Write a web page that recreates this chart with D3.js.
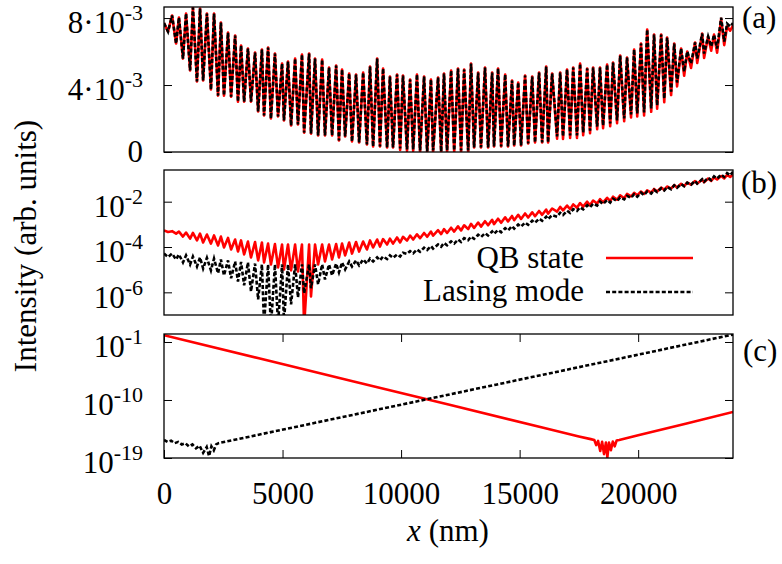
<!DOCTYPE html>
<html><head><meta charset="utf-8">
<script src="https://cdn.jsdelivr.net/npm/d3@7"></script>
<style>
html,body{margin:0;padding:0;background:#fff;}
svg{display:block;}
svg text{font-family:"Liberation Serif","Tinos","Times New Roman","Nimbus Roman","DejaVu Serif",serif !important;}
</style></head><body>
<svg id="chart" width="782" height="564"></svg>
<script>
// ---------- data ----------
// x positions (nm) of the sampled extrema used in panels (a) and (b)
const xs = [0,170,340,510,630,800,930,1100,1220,1390,
1520,1650,1810,1980,2110,2280,2400,2530,2700,2830,
3000,3120,3250,3380,3540,3670,3840,3970,4130,4220,
4390,4510,4680,4810,4980,5060,5230,5360,5530,5650,
5820,5910,6120,6200,6370,6500,6670,6790,6960,7090,
7260,7380,7510,7640,7810,7930,8100,8230,8400,8560,
8690,8820,8990,9110,9240,9410,9530,9660,9830,9960,
10080,10250,10380,10510,10670,10800,10970,11100,11260,11350,
11560,11690,11810,11940,12110,12240,12400,12530,12660,12830,
12950,13080,13250,13370,13540,13670,13840,13920,14090,14220,
14390,14510,14680,14770,14940,15060,15230,15360,15530,15650,
15820,15950,16120,16200,16370,16580,16710,16830,17000,17130,
17260,17420,17550,17680,17850,17970,18100,18270,18390,18520,
18690,18820,18940,19110,19240,19410,19530,19700,19830,19960,
20120,20250,20380,20550,20670,20800,20970,21100,21220,21390,
21520,21640,21810,21940,22070,22230,22400,22490,22700,22780,
22950,23080,23200,23330,23500,23630,23750,23880,24000];

// panel (a): intensity in units of 1e-3
const aLase = [7.70,7.19,8.15,6.48,8.03,5.58,8.27,4.87,8.63,4.21,
8.57,4.27,8.27,3.73,8.27,3.37,7.73,3.37,7.13,3.31,
6.96,3.01,6.36,3.01,6.18,3.01,5.94,2.42,6.12,2.18,
6.24,2.00,5.88,2.12,5.28,1.88,5.40,1.58,5.58,1.64,
5.82,1.16,5.88,1.10,5.58,0.99,5.52,0.99,5.04,0.99,
5.16,0.69,4.93,0.93,4.69,0.63,4.63,0.57,4.75,0.45,
5.10,0.33,5.58,0.33,4.99,0.27,4.51,0.27,4.63,0.21,
4.57,0.15,4.33,0.15,4.63,0.09,4.51,0.03,4.33,0.09,
4.45,0.03,4.69,0.09,4.87,0.09,4.99,0.09,4.93,0.09,
5.28,0.27,4.75,0.27,5.04,0.27,4.75,0.33,4.99,0.33,
4.63,0.33,4.27,0.39,4.15,0.39,4.57,0.51,4.51,0.57,
4.75,0.57,5.10,0.57,4.69,0.93,4.75,0.93,4.93,0.99,
5.04,0.99,5.28,1.16,4.99,1.28,5.04,1.52,5.04,1.58,
5.22,1.70,5.34,1.88,5.76,2.00,5.64,2.24,6.12,2.30,
6.48,2.36,7.31,2.60,7.01,2.78,7.01,3.19,6.84,3.61,
6.48,4.15,6.18,4.81,6.00,5.28,6.54,5.58,7.07,5.88,
6.90,6.30,7.01,6.18,8.03,6.60,7.67,7.49,7.70];
const aQB = [7.70,7.19,8.15,6.48,8.03,5.58,8.27,4.87,8.63,4.21,
8.57,4.27,8.27,3.73,8.27,3.37,7.73,3.37,7.13,3.31,
6.96,3.01,6.36,3.01,6.18,3.01,5.94,2.42,6.12,2.18,
6.24,2.00,5.88,2.12,5.28,1.88,5.40,1.58,5.58,1.64,
5.82,1.16,5.88,1.10,5.58,0.99,5.52,0.99,5.04,0.99,
5.16,0.69,4.93,0.93,4.69,0.63,4.63,0.57,4.75,0.45,
5.10,0.33,5.58,0.33,4.99,0.27,4.51,0.27,4.63,0.12,
4.57,0.06,4.33,0.06,4.63,0.00,4.51,0.00,4.33,0.00,
4.45,0.00,4.69,0.00,4.87,0.00,4.99,0.00,4.93,0.00,
5.28,0.27,4.75,0.27,5.04,0.27,4.75,0.33,4.99,0.33,
4.63,0.33,4.27,0.39,4.15,0.39,4.57,0.51,4.51,0.57,
4.75,0.57,5.10,0.57,4.69,0.80,4.75,0.78,4.93,0.84,
5.04,0.84,5.28,1.00,4.99,1.12,5.04,1.36,5.04,1.42,
5.22,1.54,5.34,1.72,5.76,1.84,5.64,2.06,6.12,2.12,
6.48,2.18,7.31,2.40,7.01,2.58,7.01,2.98,6.84,3.40,
6.48,3.92,6.18,4.55,6.00,5.02,6.54,5.32,7.07,5.62,
6.90,6.05,7.01,5.93,7.95,6.38,7.50,7.25,7.55];

// panel (b): log10 of intensity
const bQB = [-3.27,-3.34,-3.30,-3.41,-3.32,-3.54,-3.36,-3.63,-3.38,-3.71,
-3.41,-3.80,-3.45,-3.85,-3.49,-3.93,-3.54,-4.02,-3.60,-4.11,
-3.67,-4.20,-3.71,-4.33,-3.76,-4.46,-3.78,-4.59,-3.80,-4.68,
-3.85,-4.77,-3.87,-4.90,-3.89,-4.99,-3.89,-5.03,-3.89,-5.08,
-3.89,-7.50,-3.89,-6.18,-3.89,-4.77,-3.89,-4.64,-3.89,-4.55,
-3.87,-4.46,-3.85,-4.37,-3.80,-4.29,-3.78,-4.20,-3.76,-4.11,
-3.71,-4.02,-3.67,-3.98,-3.65,-3.89,-3.63,-3.85,-3.58,-3.80,
-3.55,-3.72,-3.50,-3.67,-3.44,-3.61,-3.38,-3.55,-3.32,-3.50,
-3.26,-3.43,-3.21,-3.38,-3.15,-3.32,-3.09,-3.27,-3.04,-3.21,
-2.98,-3.16,-2.92,-3.10,-2.86,-3.04,-2.80,-2.99,-2.75,-2.93,
-2.69,-2.87,-2.63,-2.82,-2.58,-2.76,-2.52,-2.70,-2.47,-2.64,
-2.41,-2.58,-2.35,-2.53,-2.30,-2.44,-2.23,-2.38,-2.17,-2.33,
-2.12,-2.27,-2.06,-2.22,-2.00,-2.16,-1.95,-2.08,-1.89,-2.03,
-1.83,-1.97,-1.78,-1.91,-1.72,-1.85,-1.66,-1.77,-1.61,-1.72,
-1.55,-1.66,-1.50,-1.60,-1.44,-1.55,-1.38,-1.48,-1.33,-1.42,
-1.27,-1.37,-1.21,-1.31,-1.16,-1.25,-1.09,-1.20,-1.03,-1.14,
-0.98,-1.08,-0.93,-1.02,-0.87,-0.97,-0.82,-0.91,-0.80];
const bLase = [-4.29,-4.44,-4.29,-4.55,-4.33,-4.68,-4.37,-4.77,-4.42,-4.86,
-4.46,-4.95,-4.48,-5.03,-4.51,-5.16,-4.55,-5.25,-4.59,-5.38,
-4.64,-5.52,-4.66,-5.69,-4.68,-5.96,-4.73,-6.31,-4.77,-7.40,
-4.77,-7.50,-4.77,-7.40,-4.77,-7.30,-4.77,-6.53,-4.77,-6.22,
-4.77,-6.04,-4.77,-5.82,-4.77,-5.65,-4.77,-5.43,-4.77,-5.25,
-4.73,-5.12,-4.68,-4.99,-4.64,-4.86,-4.59,-4.81,-4.55,-4.73,
-4.51,-4.64,-4.46,-4.59,-4.42,-4.53,-4.37,-4.48,-4.33,-4.42,
-4.25,-4.30,-4.18,-4.28,-4.11,-4.21,-4.03,-4.13,-3.96,-4.07,
-3.89,-3.99,-3.82,-3.92,-3.75,-3.85,-3.67,-3.78,-3.61,-3.70,
-3.54,-3.64,-3.46,-3.56,-3.39,-3.49,-3.31,-3.42,-3.25,-3.35,
-3.17,-3.27,-3.08,-3.19,-3.01,-3.10,-2.92,-3.02,-2.84,-2.93,
-2.75,-2.84,-2.66,-2.77,-2.59,-2.66,-2.49,-2.59,-2.40,-2.50,
-2.33,-2.41,-2.25,-2.34,-2.16,-2.25,-2.09,-2.17,-2.00,-2.10,
-1.93,-2.04,-1.87,-1.97,-1.81,-1.90,-1.74,-1.83,-1.67,-1.78,
-1.60,-1.71,-1.55,-1.64,-1.48,-1.58,-1.41,-1.51,-1.35,-1.45,
-1.28,-1.39,-1.22,-1.32,-1.16,-1.25,-1.08,-1.20,-1.01,-1.12,
-0.95,-1.05,-0.88,-0.98,-0.81,-0.91,-0.74,-0.84,-0.68];

// panel (c): log10 of intensity
const cQBx = [0,4000,8000,12000,16000,17500,18000,18150,18230,18310,18400,18480,18560,18640,18700,18770,18850,18930,19010,19090,19200,20000,22000,24000];
const cQB  = [0.05,-3.54,-7.13,-10.71,-14.30,-15.65,-16.07,-16.21,-17.0,-16.35,-17.9,-16.5,-18.4,-16.6,-18.9,-16.6,-17.8,-16.45,-17.2,-16.3,-16.21,-15.48,-13.67,-11.86];
const cLaseX = [0,150,300,450,600,750,900,1050,1200,1350,1500,1650,1800,1900,2000,2100,2200,2300,8000,14000,20000,24000];
const cLase  = [-16.2,-16.5,-16.3,-16.7,-16.5,-16.9,-16.7,-17.2,-16.9,-17.5,-17.1,-18.2,-17.3,-18.7,-17.2,-17.8,-16.9,-16.7,-12.28,-7.62,-2.97,0.15];

const xTicks = [0,5000,10000,15000,20000];
const aTicks = [0,4e-3,8e-3];
const aTickLabels = [["0",""],["4·10","-3"],["8·10","-3"]];
const bTicks = [1e-2,1e-4,1e-6];
const bTickLabels = [["10","-2"],["10","-4"],["10","-6"]];
const cTicks = [1e-1,1e-10,1e-19];
const cTickLabels = [["10","-1"],["10","-10"],["10","-19"]];
const seriesNames = ["QB state","Lasing mode"];

// ---------- drawing ----------
const svg = d3.select("#chart");
const L = 164, R = 733;
const FONT = 31, SUP = 22;
const RED = "#ff0000";
const x = d3.scaleLinear().domain([0,24000]).range([L,R]);

const panels = [
  {id:"a", top:7, bottom:152, y:d3.scaleLinear().domain([0,8.66e-3]).range([152,7]),
   ticks:aTicks, labels:aTickLabels, tag:"(a)", tagX:742, tagY:28,
   qb: xs.map((v,i)=>[v, aQB[i]*1e-3]), la: xs.map((v,i)=>[v, aLase[i]*1e-3])},
  {id:"b", top:170, bottom:315, y:d3.scaleLog().domain([1e-7,0.25]).range([315,170]),
   ticks:bTicks, labels:bTickLabels, tag:"(b)", tagX:741, tagY:193,
   qb: xs.map((v,i)=>[v, Math.pow(10,bQB[i])]), la: xs.map((v,i)=>[v, Math.pow(10,bLase[i])])},
  {id:"c", top:334, bottom:458, y:d3.scaleLog().domain([1e-19,Math.pow(10,0.24)]).range([458,334]),
   ticks:cTicks, labels:cTickLabels, tag:"(c)", tagX:743, tagY:361, xaxis:true,
   qb: cQBx.map((v,i)=>[v, Math.pow(10,cQB[i])]), la: cLaseX.map((v,i)=>[v, Math.pow(10,cLase[i])])}
];

const defs = svg.append("defs");

panels.forEach(p => {
  defs.append("clipPath").attr("id","clip-"+p.id)
    .append("rect").attr("x",L).attr("y",p.top).attr("width",R-L).attr("height",p.bottom-p.top);

  const line = d3.line().x(d=>x(d[0])).y(d=>p.y(Math.max(d[1],1e-30)));
  const g = svg.append("g").attr("clip-path","url(#clip-"+p.id+")");
  g.append("path").attr("d",line(p.qb)).attr("fill","none")
    .attr("stroke",RED).attr("stroke-width",2.6).attr("stroke-linejoin","round");
  g.append("path").attr("d",line(p.la)).attr("fill","none")
    .attr("stroke","#000").attr("stroke-width",2.6).attr("stroke-dasharray","4,2.2");

  // left axis with labels
  const gl = svg.append("g").attr("transform",`translate(${L},0)`)
    .call(d3.axisLeft(p.y).tickValues(p.ticks).tickSize(-8).tickPadding(21).tickFormat(()=>""));
  gl.attr("font-family",null);
  gl.select(".domain").remove();
  gl.selectAll(".tick line").attr("stroke","#000").attr("stroke-width",1);
  gl.selectAll(".tick text").each(function(d,i){
    const lab = p.labels[i];
    const t = d3.select(this).text(null)
      .attr("font-size",FONT).attr("fill","#000")
      .attr("dy", lab[1] ? "0.48em" : "0.32em");
    t.append("tspan").text(lab[0]);
    if (lab[1]) t.append("tspan").attr("font-size",SUP).attr("dy",-13).text(lab[1]);
  });
  // right mirror ticks
  const gr = svg.append("g").attr("transform",`translate(${R},0)`)
    .call(d3.axisRight(p.y).tickValues(p.ticks).tickSize(-8).tickFormat(()=>""));
  gr.select(".domain").remove();
  gr.selectAll(".tick line").attr("stroke","#000").attr("stroke-width",1);

  if (p.xaxis) {
    const gb = svg.append("g").attr("transform",`translate(0,${p.bottom})`)
      .call(d3.axisBottom(x).tickValues(xTicks).tickSize(-8).tickPadding(24).tickFormat(d3.format("d")));
    gb.attr("font-family",null);
    gb.select(".domain").remove();
    gb.selectAll(".tick line").attr("stroke","#000").attr("stroke-width",1);
    gb.selectAll(".tick text").attr("font-size",FONT).attr("fill","#000");
    const gt = svg.append("g").attr("transform",`translate(0,${p.top})`)
      .call(d3.axisTop(x).tickValues(xTicks).tickSize(-8).tickFormat(()=>""));
    gt.select(".domain").remove();
    gt.selectAll(".tick line").attr("stroke","#000").attr("stroke-width",1);
  }

  // frame
  svg.append("rect").attr("x",L).attr("y",p.top).attr("width",R-L).attr("height",p.bottom-p.top)
    .attr("fill","none").attr("stroke","#000").attr("stroke-width",1.3);

  svg.append("text").attr("x",p.tagX).attr("y",p.tagY).attr("font-size",FONT).text(p.tag);
});

// legend (inside panel b)
const legend = svg.append("g");
[[seriesNames[0],268,258,RED,null],[seriesNames[1],301,292,"#000","4,2.2"]].forEach(e=>{
  legend.append("text").attr("x",584).attr("y",e[1]).attr("text-anchor","end")
    .attr("font-size",FONT).text(e[0]);
  const ln = legend.append("line").attr("x1",606).attr("x2",693).attr("y1",e[2]).attr("y2",e[2])
    .attr("stroke",e[3]).attr("stroke-width",2.6);
  if (e[4]) ln.attr("stroke-dasharray",e[4]);
});

// axis titles
svg.append("text").attr("transform","translate(36,246) rotate(-90)")
  .attr("text-anchor","middle").attr("font-size",FONT).text("Intensity (arb. units)");
const xt = svg.append("text").attr("x",448).attr("y",541).attr("text-anchor","middle").attr("font-size",FONT);
xt.append("tspan").attr("font-style","italic").text("x");
xt.append("tspan").text(" (nm)");
</script>
</body></html>
